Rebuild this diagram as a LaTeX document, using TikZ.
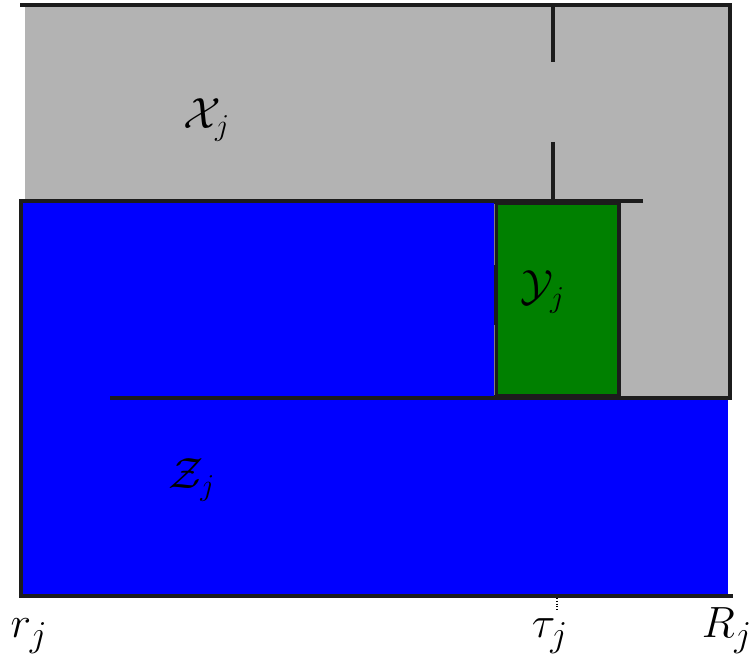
\documentclass[tikz,border=0pt]{standalone}
\usepackage{amsmath,amssymb}
\usepackage{tikz}
\usetikzlibrary{positioning, calc}

\definecolor{regiongray}{RGB}{179,179,179}
\definecolor{regionblue}{RGB}{0,0,255}
\definecolor{regiongreen}{RGB}{0,128,0}
\definecolor{edgeblack}{RGB}{28,28,28}

\tikzset{
  wall/.style={draw=edgeblack, line width=2.8pt},
  thinwall/.style={draw=edgeblack, line width=1.8pt},
  biglabel/.style={font=\fontsize{27}{30}\selectfont, inner sep=0pt},
  axislabel/.style={font=\fontsize{29}{32}\selectfont, inner sep=0pt}
}

\begin{document}
\begin{tikzpicture}[x=0.2mm, y=-0.2mm]
      \useasboundingbox (0,0) rectangle (753,661);

      % Region X
      \fill[regiongray] (25,5) rectangle (730,398);

      % Region Z
      \fill[regionblue] (22,201) rectangle (495,398);
      \fill[regionblue] (22,398) rectangle (728,595);

      % Region Y
      \fill[regiongreen] (496,203) rectangle (619,396);
      \draw[thinwall] (496,203) rectangle (619,396);
      \draw[gray, line width=0.5pt] (494,204) -- (494,265) (494,325) -- (494,395);

      % Outline
      \draw[wall] (20,5) -- (730,5) -- (730,400);
      \draw[wall] (643,201) -- (21,201) -- (21,596) -- (733,596);
      \draw[thinwall] (110,398) -- (730,398);

      % Split at tau
      \draw[wall] (553,5) -- (553,62);
      \draw[wall] (553,142) -- (553,201);
      \draw[densely dotted, line width=0.6pt] (557,598) -- (557,612);

      % Labels
      \node[biglabel] (xj) at (207,120) {$\mathcal{X}_j$};
      \node[biglabel] (yj) at (543,292) {$\mathcal{Y}_j$};
      \node[biglabel] (zj) at (192,480) {$\mathcal{Z}_j$};
      \node[axislabel] (rj) at (29,636) {$r_j$};
      \node[axislabel] (tj) at (550,636) {$\tau_j$};
      \node[axislabel] (Rj) at (727,631) {$R_j$};
\end{tikzpicture}
\end{document}
